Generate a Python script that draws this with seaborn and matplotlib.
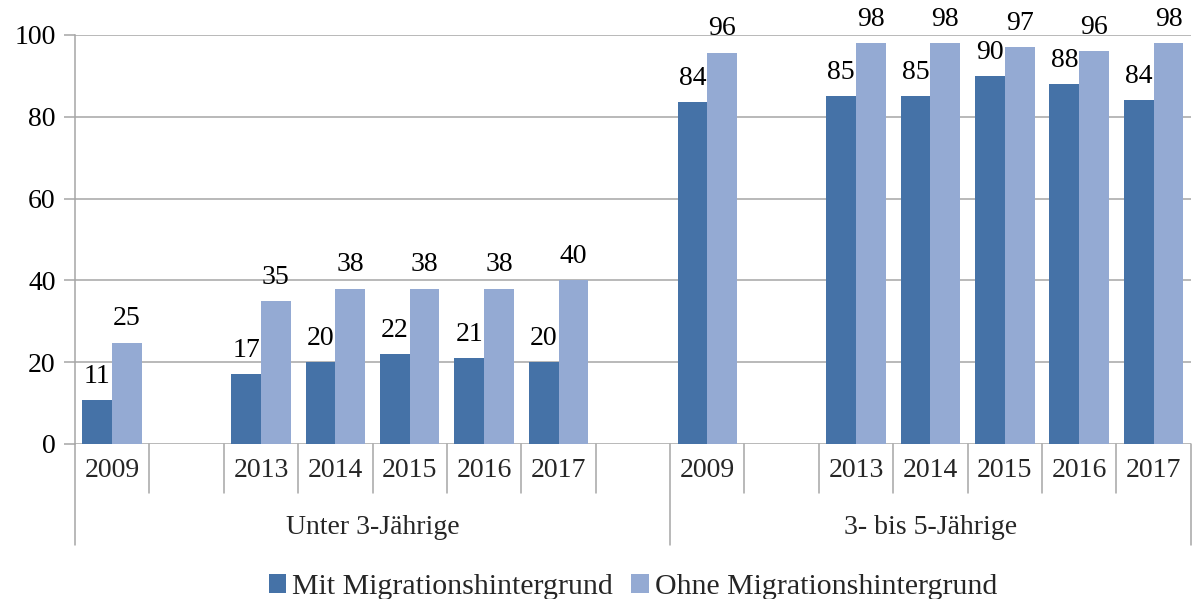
import matplotlib
matplotlib.use("Agg")
import matplotlib.pyplot as plt
import matplotlib.transforms as mtransforms
import seaborn as sns
import pandas as pd

# data
groups = ["Unter 3-Jährige", "3- bis 5-Jährige"]
years = ["2009", "2013", "2014", "2015", "2016", "2017"]
series = ["Mit Migrationshintergrund", "Ohne Migrationshintergrund"]
u3_mit = [10.7, 17, 20, 22, 21, 20]
u3_ohne = [24.8, 35, 38, 38, 38, 40]
u35_mit = [83.6, 85, 85, 90, 88, 84]
u35_ohne = [95.7, 98, 98, 97, 96, 98]

colors = ["#4572A7", "#94AAD3"]
GRID = "#A6A6A6"

rows = []
for g, mit, ohne in [(groups[0], u3_mit, u3_ohne), (groups[1], u35_mit, u35_ohne)]:
    for y, a, b in zip(years, mit, ohne):
        rows.append({"slot": f"{g}|{y}", "serie": series[0], "wert": a})
        rows.append({"slot": f"{g}|{y}", "serie": series[1], "wert": b})
df = pd.DataFrame(rows)

# category slots incl. the empty gaps Excel leaves for 2010-2012
order = []
for i, g in enumerate(groups):
    order.append(f"{g}|2009")
    order.append(f"{g}|gap")
    order += [f"{g}|{y}" for y in years[1:]]
    if i == 0:
        order.append(f"{g}|end")

sns.set_style("white")
plt.rcParams["font.family"] = ["Liberation Serif", "DejaVu Serif"]
FS = 20

fig, ax = plt.subplots(figsize=(11.92, 5.99), dpi=100)
fig.subplots_adjust(left=0.0629, right=0.999, top=0.9416, bottom=0.2588)

sns.barplot(data=df, x="slot", y="wert", hue="serie", order=order,
            hue_order=series, palette=colors, width=0.8, saturation=1,
            edgecolor="none", ax=ax, zorder=3)

ax.set_ylim(0, 100)
ax.set_yticks(range(0, 101, 20))
ax.yaxis.grid(True, color=GRID, linewidth=1.1)
ax.set_axisbelow(True)
ax.set_xlabel("")
ax.set_ylabel("")
ax.set_xticks([])
ax.tick_params(axis="y", labelsize=FS, length=8, color=GRID, width=1.1,
               left=True, pad=6, labelcolor="black")
for s in ["top", "right", "bottom"]:
    ax.spines[s].set_visible(False)
ax.spines["left"].set_color(GRID)
ax.spines["left"].set_linewidth(1.1)

# value labels
for cont in ax.containers:
    ax.bar_label(cont, labels=[f"{round(v)}" for v in cont.datavalues],
                 padding=8, fontsize=FS, color="black")

# multi-level category axis
trans = mtransforms.blended_transform_factory(ax.transData, ax.transAxes)
n = len(order)
for i, key in enumerate(order):
    yr = key.split("|")[1]
    if yr.isdigit():
        ax.text(i, -0.066, yr, transform=trans, ha="center", va="center",
                fontsize=FS)
for b in range(n + 1):
    xpos = b - 0.5
    long_line = b in (0, 8, n)
    ax.plot([xpos, xpos], [0, -0.247 if long_line else -0.12],
            transform=trans, color=GRID, lw=1.1, clip_on=False)
ax.text(3.5, -0.205, groups[0], transform=trans, ha="center", va="center",
        fontsize=FS)
ax.text(11.0, -0.205, groups[1], transform=trans, ha="center", va="center",
        fontsize=FS)
ax.set_xlim(-0.5, n - 0.5)

ax.legend(loc="center", bbox_to_anchor=(0.5, -0.35), ncol=2, frameon=False,
          fontsize=21.5, handlelength=0.6, handleheight=0.6, handletextpad=0.2,
          columnspacing=0.6, borderaxespad=0)

fig.savefig("out.png", dpi=100)
